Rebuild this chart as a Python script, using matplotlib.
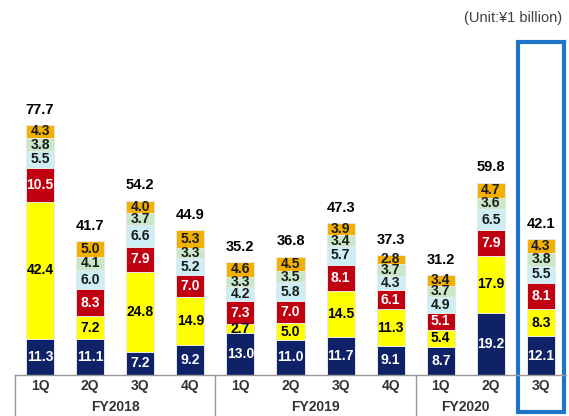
import matplotlib.pyplot as plt
from matplotlib.patches import Rectangle
import matplotlib.transforms as mtransforms

plt.rcParams['font.family'] = ['Liberation Sans', 'DejaVu Sans']

quarters = ['1Q', '2Q', '3Q', '4Q', '1Q', '2Q', '3Q', '4Q', '1Q', '2Q', '3Q']
years = ['FY2018', 'FY2019', 'FY2020']
totals = [77.7, 41.7, 54.2, 44.9, 35.2, 36.8, 47.3, 37.3, 31.2, 59.8, 42.1]

# segments bottom -> top
navy = [11.3, 11.1, 7.2, 9.2, 13.0, 11.0, 11.7, 9.1, 8.7, 19.2, 12.1]
yellow = [42.4, 7.2, 24.8, 14.9, 2.7, 5.0, 14.5, 11.3, 5.4, 17.9, 8.3]
red = [10.5, 8.3, 7.9, 7.0, 7.3, 7.0, 8.1, 6.1, 5.1, 7.9, 8.1]
lightblue = [5.5, 6.0, 6.6, 5.2, 4.2, 5.8, 5.7, 4.3, 4.9, 6.5, 5.5]
lightgreen = [3.8, 4.1, 3.7, 3.3, 3.3, 3.5, 3.4, 3.7, 3.7, 3.6, 3.8]
orange = [4.3, 5.0, 4.0, 5.3, 4.6, 4.5, 3.9, 2.8, 3.4, 4.7, 4.3]

series = [navy, yellow, red, lightblue, lightgreen, orange]
colors = ['#0f2167', '#ffff00', '#c00010', '#cdeef4', '#c8e8c8', '#f2b100']
text_colors = ['white', 'black', 'white', '#1a1a1a', '#1a1a1a', '#1a1a1a']

fig = plt.figure(figsize=(5.69, 4.16), dpi=100)
ax = fig.add_axes([15 / 569, 41 / 416, 551 / 569, 375 / 416])
ax.set_xlim(-0.5, 10.5)
ax.set_ylim(0, 116.5)
ax.axis('off')

x = list(range(len(quarters)))
bottom = [0] * len(x)
for vals, c, tc in zip(series, colors, text_colors):
    ax.bar(x, vals, bottom=bottom, width=0.56, color=c, edgecolor='#e8e8e8', linewidth=0.7)
    for i, v in enumerate(vals):
        ax.text(i, bottom[i] + v / 2, f'{v:.1f}', ha='center', va='center',
                fontsize=10, fontweight='bold', color=tc)
    bottom = [b + v for b, v in zip(bottom, vals)]

for i, t in enumerate(totals):
    ax.text(i, bottom[i] + 2.5, f'{t:.1f}', ha='center', va='bottom',
            fontsize=10.5, fontweight='bold', color='black')

trans = mtransforms.blended_transform_factory(ax.transData, ax.transAxes)
ax.plot([-0.5, 10.5], [0, 0], color='#999999', lw=1, transform=trans, clip_on=False)
for sx in [-0.5, 3.5, 7.5]:
    ax.plot([sx, sx], [0, -0.11], color='#999999', lw=1, transform=trans, clip_on=False)
for i, q in enumerate(quarters):
    ax.text(i, -0.03, q, ha='center', va='center', fontsize=10, fontweight='bold',
            color='#333333', transform=trans)
for j, yname in enumerate(years):
    ax.text(1.5 + 4 * j if j < 2 else 8.5, -0.085, yname, ha='center', va='center',
            fontsize=10, fontweight='bold', color='#333333', transform=trans)

ax.add_patch(Rectangle((9.55, -11.6), 0.92, 115.0, fill=False, edgecolor='#1f74c8',
                       lw=3, clip_on=False))

fig.text(562 / 569, 1 - 18 / 416, '(Unit:¥1 billion)', ha='right', va='center',
         fontsize=10.5, color='#404040')

fig.savefig('out.png', dpi=100)
